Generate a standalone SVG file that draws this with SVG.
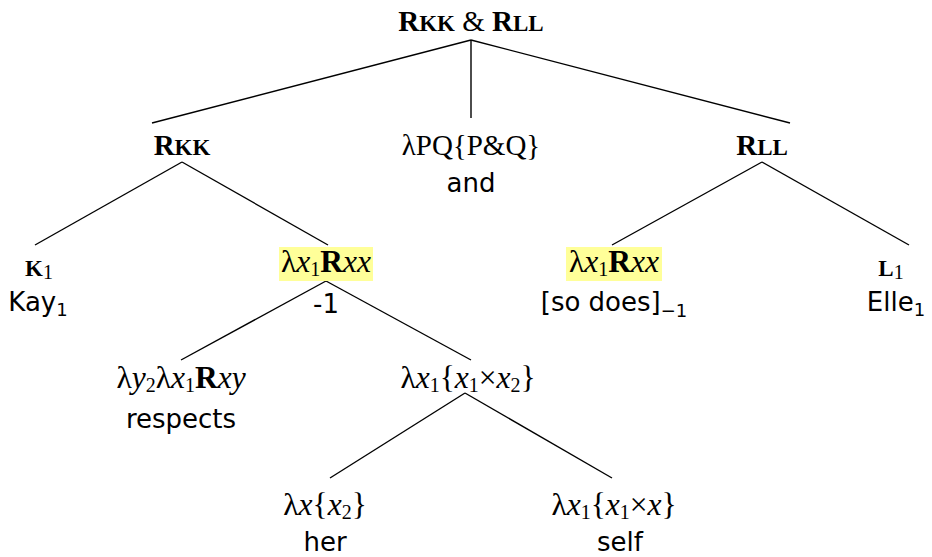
<svg xmlns="http://www.w3.org/2000/svg" width="932" height="557" viewBox="0 0 932 557">
  <style>
    .f { font-family: "Liberation Serif", "Times New Roman", serif; font-size: 29px; fill: #000; }
    .m { font-size: 31.5px; }
    .s { font-family: "DejaVu Sans", "Noto Sans", sans-serif; font-size: 26px; fill: #000; }
    .b { font-weight: bold; }
    .sc { font-weight: bold; font-size: 23px; }
    .i { font-style: italic; }
    .sub { font-size: 20px; }
    .ssub { font-size: 18px; }
    .hl { fill: #ffff99; }
    .edge { stroke: #000; stroke-width: 1.4; fill: none; }
  </style>
  <rect width="932" height="557" fill="#fff"/>

  <g id="connectors">
    <line class="edge" x1="471" y1="40" x2="152" y2="123"/>
    <line class="edge" x1="471" y1="40" x2="471" y2="118"/>
    <line class="edge" x1="471" y1="40" x2="790" y2="123"/>
    <line class="edge" x1="182" y1="162" x2="35" y2="245"/>
    <line class="edge" x1="182" y1="162" x2="328" y2="245"/>
    <line class="edge" x1="762" y1="162" x2="612" y2="245"/>
    <line class="edge" x1="762" y1="162" x2="909" y2="245"/>
    <line class="edge" x1="326" y1="281" x2="181" y2="360"/>
    <line class="edge" x1="326" y1="281" x2="471" y2="360"/>
    <line class="edge" x1="465" y1="393" x2="330" y2="478"/>
    <line class="edge" x1="465" y1="393" x2="612" y2="478"/>
  </g>

  <g id="root">
    <text class="f" x="471" y="31" text-anchor="middle"><tspan class="b">R</tspan><tspan class="sc">KK</tspan> &amp; <tspan class="b">R</tspan><tspan class="sc">LL</tspan></text>
  </g>

  <g id="rkk">
    <text class="f" x="182" y="155" text-anchor="middle"><tspan class="b">R</tspan><tspan class="sc">KK</tspan></text>
  </g>

  <g id="and">
    <text class="f" x="471" y="155" text-anchor="middle">λPQ{P&amp;Q}</text>
    <text class="s" x="471" y="192" text-anchor="middle" font-size="23">and</text>
  </g>

  <g id="rll">
    <text class="f" x="762" y="155" text-anchor="middle"><tspan class="b">R</tspan><tspan class="sc">LL</tspan></text>
  </g>

  <g id="kay">
    <text class="f" x="39" y="276" text-anchor="middle"><tspan class="sc">K</tspan><tspan class="sub" dy="3">1</tspan></text>
    <text class="s" x="38" y="311" text-anchor="middle">Kay<tspan class="ssub" dy="5">1</tspan></text>
  </g>

  <g id="vp-left">
    <rect class="hl" x="279" y="247" width="94" height="34"/>
    <text class="f m" x="326" y="272" text-anchor="middle">λ<tspan class="i">x</tspan><tspan class="sub" dy="4">1</tspan><tspan class="b" dy="-4">R</tspan><tspan class="i">xx</tspan></text>
    <text class="s" x="326" y="313" text-anchor="middle">-1</text>
  </g>

  <g id="vp-right">
    <rect class="hl" x="566" y="247" width="96" height="34"/>
    <text class="f m" x="614" y="272" text-anchor="middle">λ<tspan class="i">x</tspan><tspan class="sub" dy="4">1</tspan><tspan class="b" dy="-4">R</tspan><tspan class="i">xx</tspan></text>
    <text class="s" x="614" y="311" text-anchor="middle">[so does]<tspan class="ssub" dy="6">−1</tspan></text>
  </g>

  <g id="elle">
    <text class="f" x="891" y="276" text-anchor="middle"><tspan class="sc">L</tspan><tspan class="sub" dy="3">1</tspan></text>
    <text class="s" x="896" y="311" text-anchor="middle">Elle<tspan class="ssub" dy="5">1</tspan></text>
  </g>

  <g id="respects">
    <text class="f m" x="181" y="388" text-anchor="middle">λ<tspan class="i">y</tspan><tspan class="sub" dy="4">2</tspan><tspan dy="-4">λ</tspan><tspan class="i">x</tspan><tspan class="sub" dy="4">1</tspan><tspan class="b" dy="-4">R</tspan><tspan class="i">xy</tspan></text>
    <text class="s" x="181" y="428" text-anchor="middle">respects</text>
  </g>

  <g id="reflexive">
    <text class="f m" x="468" y="388" text-anchor="middle">λ<tspan class="i">x</tspan><tspan class="sub" dy="4">1</tspan><tspan dy="-4">{</tspan><tspan class="i">x</tspan><tspan class="sub" dy="4">1</tspan><tspan dy="-4">×</tspan><tspan class="i">x</tspan><tspan class="sub" dy="4">2</tspan><tspan dy="-4">}</tspan></text>
  </g>

  <g id="her">
    <text class="f m" x="325" y="515" text-anchor="middle">λ<tspan class="i">x</tspan>{<tspan class="i">x</tspan><tspan class="sub" dy="4">2</tspan><tspan dy="-4">}</tspan></text>
    <text class="s" x="325" y="551" text-anchor="middle">her</text>
  </g>

  <g id="self">
    <text class="f m" x="614" y="515" text-anchor="middle">λ<tspan class="i">x</tspan><tspan class="sub" dy="4">1</tspan><tspan dy="-4">{</tspan><tspan class="i">x</tspan><tspan class="sub" dy="4">1</tspan><tspan dy="-4">×</tspan><tspan class="i">x</tspan>}</text>
    <text class="s" x="620" y="551" text-anchor="middle">self</text>
  </g>
</svg>
